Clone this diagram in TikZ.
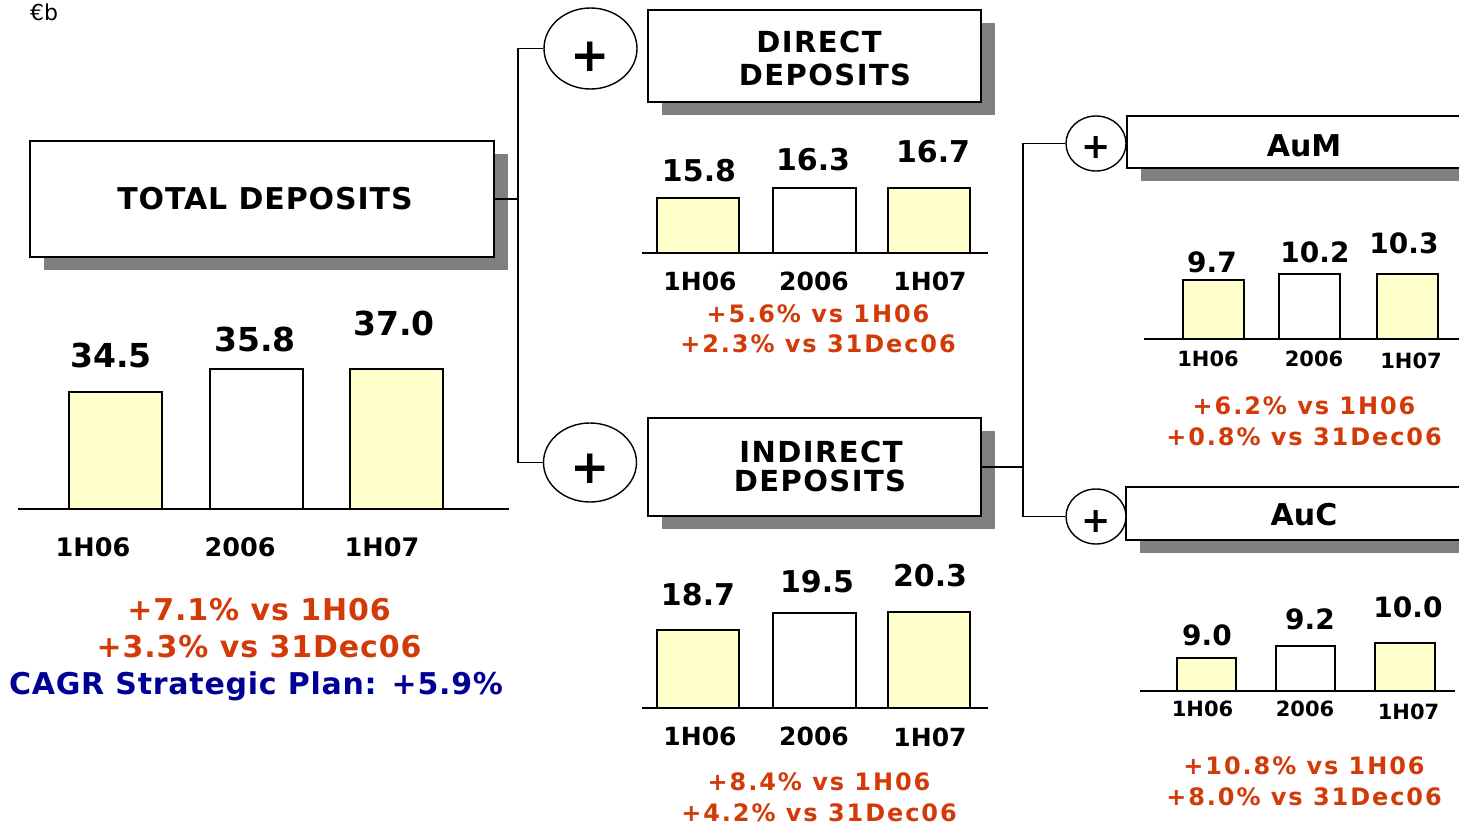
\documentclass[tikz,border=0pt]{standalone}
\usepackage{fontspec}
\setmainfont{DejaVu Sans}
\usetikzlibrary{shapes.geometric,shadows}
\definecolor{barfill}{RGB}{255,255,204}
\definecolor{shadowgray}{RGB}{128,128,128}
\definecolor{pctred}{RGB}{210,58,8}
\definecolor{planblue}{RGB}{0,0,150}
\newcommand{\fsz}[1]{\fontsize{#1}{#1}\selectfont}
\begin{document}
\begin{tikzpicture}[x=1pt,y=-1pt,
  titlebox/.style={draw=black, line width=1.6pt, fill=white, inner sep=0pt,
    drop shadow={shadow xshift=14pt, shadow yshift=-13pt, fill=shadowgray, opacity=1}},
  plusring/.style={ellipse, draw=black, line width=1.4pt, fill=white, inner sep=0pt},
  wire/.style={line width=1.6pt},
  axisline/.style={line width=1.7pt},
  ybar/.style={draw=black, line width=1.5pt, fill=barfill},
  wbar/.style={draw=black, line width=1.5pt, fill=white},
  lbl/.style={inner sep=0pt, anchor=base},
  ttl/.style={lbl, font=\bfseries\fsz{30}\addfontfeature{LetterSpace=3}},
  ttlb/.style={lbl, font=\bfseries\fsz{29}\addfontfeature{LetterSpace=5}},
  redL/.style={lbl, text=pctred, font=\bfseries\fsz{30}\addfontfeature{LetterSpace=3}},
  redS/.style={lbl, text=pctred, font=\bfseries\fsz{24}\addfontfeature{LetterSpace=8}},
  plusbig/.style={inner sep=0pt, font=\bfseries\fsz{47}},
  plussmall/.style={inner sep=0pt, font=\bfseries\fsz{35}}
]
\useasboundingbox (0,0) rectangle (1459,824);
\fill[white] (0,0) rectangle (1459,824);

\node[lbl, anchor=base west, font=\fsz{22}] (unit) at (30,21) {€b};

% ---------- boxes ----------
\node[titlebox, minimum width=464pt, minimum height=116pt] (total) at (262,199) {};
\node[titlebox, minimum width=333pt, minimum height=92pt] (direct) at (814.5,56) {};
\node[titlebox, minimum width=333pt, minimum height=98pt] (indirect) at (814.5,467) {};
\node[titlebox, minimum width=393pt, minimum height=52pt] (aum) at (1323.5,142) {};
\node[titlebox, minimum width=394pt, minimum height=53pt] (auc) at (1323,513.5) {};

\node[ttl] (tTotal) at (265,209) {TOTAL DEPOSITS};
\node[ttlb] (tDirA) at (819,53) {DIRECT};
\node[ttlb] (tDirB) at (825,86) {DEPOSITS};
\node[ttlb] (tIndA) at (821,462) {INDIRECT};
\node[ttlb] (tIndB) at (820,491) {DEPOSITS};
\node[lbl, font=\bfseries\fsz{30}] (tAum) at (1304,157) {AuM};
\node[lbl, font=\bfseries\fsz{30}] (tAuc) at (1304,525) {AuC};

% ---------- plus rings ----------
\node[plusring, minimum width=93pt, minimum height=81pt] (cp1) at (590.5,48.5) {};
\node[plusring, minimum width=93pt, minimum height=79pt] (cp2) at (590,462.5) {};
\node[plusring, minimum width=60pt, minimum height=55pt] (cp3) at (1096,143.5) {};
\node[plusring, minimum width=60pt, minimum height=55pt] (cp4) at (1096,516.5) {};
\node[plusbig] (p1) at (590,56.5) {+};
\node[plusbig] (p2) at (590,469) {+};
\node[plussmall] (p3) at (1096,148) {+};
\node[plussmall] (p4) at (1096,521.5) {+};

% ---------- connectors ----------
\coordinate (j1) at (518,199);
\coordinate (j2) at (1023,467);
\draw[wire] (total.east) -- (total.east -| j1);
\draw[wire] (cp1.west) -- (cp1.west -| j1) -- (cp2.west -| j1) -- (cp2.west);
\draw[wire] (indirect.east) -- (indirect.east -| j2);
\draw[wire] (cp3.west) -- (cp3.west -| j2) -- (cp4.west -| j2) -- (cp4.west);

% ---------- total chart ----------
\draw[ybar] (69,392) rectangle (162,509);
\draw[wbar] (210,369) rectangle (303,509);
\draw[ybar] (350,369) rectangle (443,509);
\draw[axisline] (18,509) -- (509,509);
\node[lbl, font=\bfseries\fsz{33}] (v1) at (111,367) {34.5};
\node[lbl, font=\bfseries\fsz{33}] (v2) at (255,351) {35.8};
\node[lbl, font=\bfseries\fsz{33}] (v3) at (394,335) {37.0};
\node[lbl, font=\bfseries\fsz{25.5}] (c1) at (93,556) {1H06};
\node[lbl, font=\bfseries\fsz{25.5}] (c2) at (240,556) {2006};
\node[lbl, font=\bfseries\fsz{25.5}] (c3) at (382,556) {1H07};
\node[redL] (r1) at (259,620) {+7.1\% vs 1H06};
\node[redL] (r2) at (259,657) {+3.3\% vs 31Dec06};
\node[lbl, text=planblue, font=\bfseries\fsz{30}\addfontfeature{LetterSpace=2.5}] (b1) at (256,694) {CAGR Strategic Plan: +5.9\%};

% ---------- direct chart ----------
\draw[ybar] (657,198) rectangle (739,253);
\draw[wbar] (773,188) rectangle (856,253);
\draw[ybar] (888,188) rectangle (970,253);
\draw[axisline] (642,253) -- (988,253);
\node[lbl, font=\bfseries\fsz{30}] (dv1) at (699,182) {15.8};
\node[lbl, font=\bfseries\fsz{30}] (dv2) at (813,171) {16.3};
\node[lbl, font=\bfseries\fsz{30}] (dv3) at (933,163) {16.7};
\node[lbl, font=\bfseries\fsz{25}] (dc1) at (700,290) {1H06};
\node[lbl, font=\bfseries\fsz{25}] (dc2) at (814,290) {2006};
\node[lbl, font=\bfseries\fsz{25}] (dc3) at (930,290) {1H07};
\node[redS] (dr1) at (818,322) {+5.6\% vs 1H06};
\node[redS] (dr2) at (818,352) {+2.3\% vs 31Dec06};

% ---------- indirect chart ----------
\draw[ybar] (657,630) rectangle (739,708);
\draw[wbar] (773,613) rectangle (856,708);
\draw[ybar] (888,612) rectangle (970,708);
\draw[axisline] (642,708) -- (988,708);
\node[lbl, font=\bfseries\fsz{30}] (iv1) at (698,605) {18.7};
\node[lbl, font=\bfseries\fsz{30}] (iv2) at (817,592) {19.5};
\node[lbl, font=\bfseries\fsz{30}] (iv3) at (930,586) {20.3};
\node[lbl, font=\bfseries\fsz{25}] (ic1) at (700,745) {1H06};
\node[lbl, font=\bfseries\fsz{25}] (ic2) at (814,745) {2006};
\node[lbl, font=\bfseries\fsz{25}] (ic3) at (930,746) {1H07};
\node[redS] (ir1) at (819,790) {+8.4\% vs 1H06};
\node[redS] (ir2) at (819,821) {+4.2\% vs 31Dec06};

% ---------- AuM chart ----------
\draw[ybar] (1183,280) rectangle (1244,339);
\draw[wbar] (1279,274) rectangle (1340,339);
\draw[ybar] (1377,274) rectangle (1438,339);
\draw[axisline] (1144,339) -- (1470,339);
\node[lbl, font=\bfseries\fsz{28}] (mv1) at (1212,272) {9.7};
\node[lbl, font=\bfseries\fsz{28}] (mv2) at (1315,262) {10.2};
\node[lbl, font=\bfseries\fsz{28}] (mv3) at (1404,253) {10.3};
\node[lbl, font=\bfseries\fsz{21}] (mc1) at (1208,366) {1H06};
\node[lbl, font=\bfseries\fsz{21}] (mc2) at (1314,366) {2006};
\node[lbl, font=\bfseries\fsz{21}] (mc3) at (1411,368) {1H07};
\node[redS] (mr1) at (1304,414) {+6.2\% vs 1H06};
\node[redS] (mr2) at (1304,445) {+0.8\% vs 31Dec06};

% ---------- AuC chart ----------
\draw[ybar] (1177,658) rectangle (1236,691);
\draw[wbar] (1276,646) rectangle (1335,691);
\draw[ybar] (1375,643) rectangle (1435,691);
\draw[axisline] (1140,691) -- (1455,691);
\node[lbl, font=\bfseries\fsz{28}] (uv1) at (1207,645) {9.0};
\node[lbl, font=\bfseries\fsz{28}] (uv2) at (1310,629) {9.2};
\node[lbl, font=\bfseries\fsz{28}] (uv3) at (1408,617) {10.0};
\node[lbl, font=\bfseries\fsz{21}] (uc1) at (1202.5,716) {1H06};
\node[lbl, font=\bfseries\fsz{21}] (uc2) at (1305,716) {2006};
\node[lbl, font=\bfseries\fsz{21}] (uc3) at (1408.5,719) {1H07};
\node[redS] (ur1) at (1304,774) {+10.8\% vs 1H06};
\node[redS] (ur2) at (1304,805) {+8.0\% vs 31Dec06};
\end{tikzpicture}
\end{document}
